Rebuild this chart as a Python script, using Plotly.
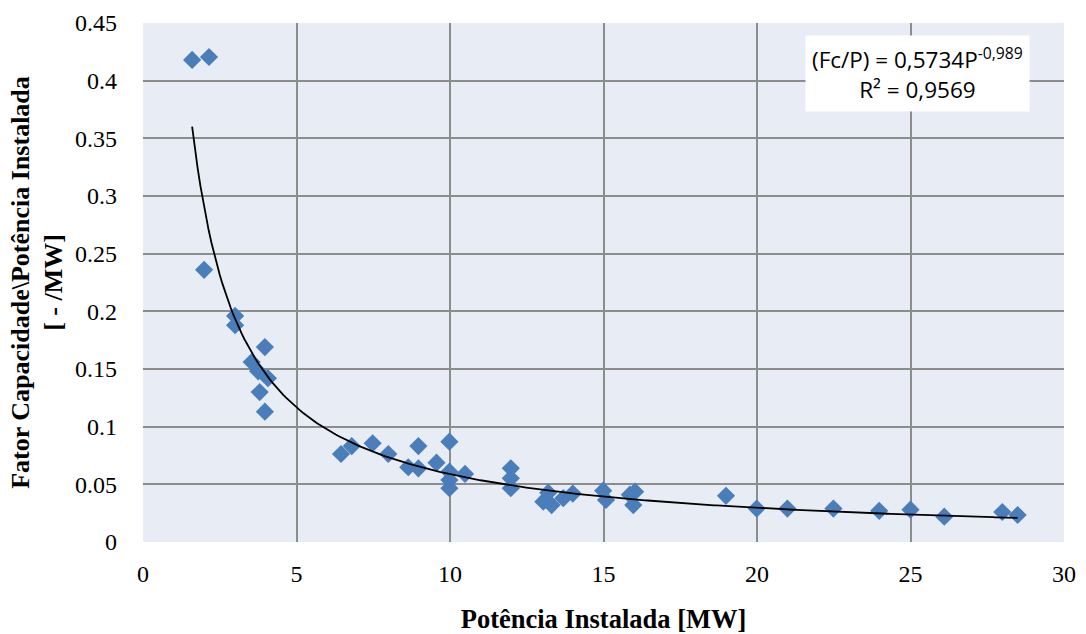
import numpy as np
import plotly.graph_objects as go

# Potência instalada [MW]
potencia = [1.6, 2.15, 1.99, 3.0, 3.0, 3.54, 3.75, 3.97, 4.07, 3.8, 3.97,
            6.45, 6.8, 7.48, 7.99, 8.64, 8.97, 8.97, 9.56, 9.98, 9.98, 9.98, 9.98, 10.49,
            11.98, 11.98, 11.98, 13.04, 13.2, 13.31, 13.69, 14.0, 14.99, 15.08, 15.86, 15.97, 16.03,
            18.99, 19.99, 20.99, 22.49, 23.98, 25.0, 26.1, 27.99, 28.49]
# Fator capacidade / potência instalada [-/MW]
fc_p = [0.418, 0.4205, 0.236, 0.196, 0.188, 0.156, 0.148, 0.169, 0.142, 0.130, 0.113,
        0.0763, 0.0832, 0.0856, 0.0763, 0.0648, 0.0832, 0.0639, 0.0688, 0.087, 0.061, 0.0538, 0.0466, 0.059,
        0.0639, 0.0552, 0.0466, 0.035, 0.0428, 0.032, 0.038, 0.042, 0.0445, 0.0364, 0.041, 0.032, 0.0436,
        0.040, 0.029, 0.029, 0.029, 0.027, 0.028, 0.022, 0.026, 0.0234]

# Trendline parameters as shown on the chart
coef_a = 0.5734
coef_b = -0.989
r2_text = "0,9569"

xt = np.linspace(min(potencia), max(potencia), 300)
yt = coef_a * xt ** coef_b

fig = go.Figure()
fig.add_trace(go.Scatter(x=potencia, y=fc_p, mode="markers",
                         marker=dict(symbol="diamond", size=14, color="#4A7EBB"),
                         showlegend=False))
fig.add_trace(go.Scatter(x=xt, y=yt, mode="lines",
                         line=dict(color="black", width=1.8), showlegend=False))

serif = "Liberation Serif, Times New Roman, serif"
fig.update_layout(
    width=1086, height=634,
    margin=dict(l=143, r=22, t=23, b=92),
    paper_bgcolor="white", plot_bgcolor="#E8ECF4",
    font=dict(family=serif, size=24, color="black"),
    xaxis=dict(range=[0, 30], dtick=5, showgrid=True, gridcolor="#8C8C8C", gridwidth=2,
               zeroline=False, showline=False, ticks="", ticklabelstandoff=15, automargin=False,
               tickfont=dict(family=serif, size=24),
               title=dict(text="<b>Potência Instalada [MW]</b>", font=dict(family=serif, size=26.5), standoff=25)),
    yaxis=dict(range=[0, 0.45], dtick=0.05, tickformat="~g", showgrid=True, gridcolor="#8C8C8C", gridwidth=2,
               zeroline=False, showline=False, ticks="", ticklabelstandoff=25, automargin=False,
               tickfont=dict(family=serif, size=24),
               title=dict(text="<b>Fator Capacidade\\Potência Instalada<br>[ - /MW]</b>",
                          font=dict(family=serif, size=26), standoff=4)),
    annotations=[dict(
        x=0.963, y=0.8285, xref="paper", yref="paper", xanchor="right", yanchor="bottom",
        text=f"(Fc/P) = {str(coef_a).replace('.', ',')}P<sup>{str(coef_b).replace('.', ',')}</sup><br>R² = {r2_text}",
        showarrow=False, align="center", bgcolor="white", borderpad=6,
        font=dict(family="Open Sans, Liberation Sans, sans-serif", size=22.5, color="black"))],
)

fig.write_html("out.html", config={"displayModeBar": False},
               post_script="document.body.style.margin='0';")
